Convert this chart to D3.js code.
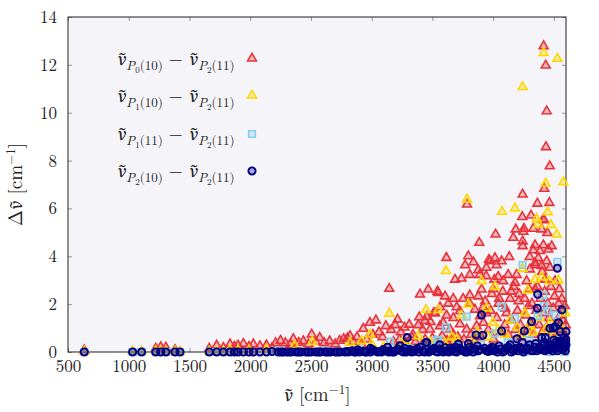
<!DOCTYPE html>
<html>
<head>
<meta charset="utf-8">
<script src="https://cdn.jsdelivr.net/npm/d3@7"></script>
<style>
  body { margin: 0; background: #fff; }
  svg { display: block; font-family: "Latin Modern Roman", "Liberation Serif", serif; }
  .nu { font-family: "Noto Serif", "DejaVu Serif", serif; font-style: italic; }
</style>
</head>
<body>
<svg width="599" height="412"></svg>
<script>
// tick values
const xTicks = [500, 1000, 1500, 2000, 2500, 3000, 3500, 4000, 4500];
const yTicks = [0, 2, 4, 6, 8, 10, 12, 14];

// nu_P0(10) - nu_P2(11)
const red = [
  [634,0.05],[1222,0.12],[1263,0.18],[1306,0.16],[1381,0.06],[1663,0.12],[1724,0.25],[1779,0.15],[1834,0.3],[1870,0.2],
  [1900,0.25],[1944,0.32],[1990,0.2],[2026,0.3],[2080,0.22],[2134,0.26],[2180,0.15],[2210,0.35],[2250,0.45],[2290,0.35],
  [2330,0.3],[2355,0.52],[2400,0.36],[2437,0.43],[2480,0.3],[2506,0.71],[2540,0.4],[2572,0.57],[2610,0.35],[2654,0.43],
  [2700,0.3],[2736,0.45],[2770,0.52],[2800,0.55],[2822,0.64],[2850,0.4],[2880,0.6],[2917,0.3],[2931,0.95],[2960,0.5],
  [2986,1.2],[3010,0.7],[3035,1.3],[3060,0.8],[3090,0.6],[3117,1.06],[3145,2.62],[3160,0.9],[3194,1.1],[3213,1.33],
  [3240,0.8],[3270,1.0],[3309,1.12],[3340,0.7],[3384,1.1],[3392,1.43],[3398,2.38],[3420,0.9],[3439,1.27],[3453,1.45],
  [3466,2.59],[3480,0.92],[3485,1.23],[3510,1.6],[3522,1.6],[3541,2.5],[3549,2.45],[3563,1.85],[3563,1.06],[3590,1.2],
  [3604,2.3],[3615,3.91],[3617,1.5],[3631,2.0],[3645,0.92],[3672,2.2],[3672,1.4],[3672,0.7],[3686,3.0],[3700,1.85],
  [3727,1.68],[3727,1.14],[3740,3.05],[3753,2.2],[3770,3.6],[3782,0.92],[3785,6.14],[3796,3.98],[3808,3.2],[3808,2.35],
  [3808,2.0],[3838,3.73],[3850,1.75],[3864,1.06],[3878,3.4],[3878,2.3],[3886,4.54],[3890,3.2],[3892,1.47],[3905,2.59],
  [3918,1.85],[3944,3.5],[3943,3.15],[3945,1.6],[3966,3.83],[3974,3.77],[3990,2.4],[4010,3.0],[4015,3.9],[4020,4.89],
  [4028,3.6],[4042,3.12],[4050,2.2],[4070,3.77],[4083,2.94],[4100,1.8],[4124,3.2],[4133,3.95],[4150,2.5],[4166,4.75],
  [4180,2.87],[4186,5.1],[4193,3.2],[4210,2.1],[4240,5.62],[4243,6.56],[4243,4.6],[4243,4.4],[4249,5.0],[4254,5.13],
  [4276,2.94],[4290,1.9],[4301,3.95],[4303,3.43],[4312,5.68],[4330,5.13],[4331,4.23],[4345,4.44],[4345,2.6],[4345,3.69],
  [4350,3.6],[4364,6.18],[4372,3.9],[4386,4.2],[4400,5.1],[4400,3.57],[4404,3.33],[4413,5.52],[4414,4.44],[4416,12.76],
  [4419,5.49],[4421,6.8],[4427,3.0],[4433,11.95],[4435,8.54],[4441,10.04],[4441,3.77],[4446,4.95],[4454,4.26],[4463,6.21],
  [4466,7.74],[4468,3.5],[4482,4.4],[4510,2.94],
  [3900,0.6],[3920,1.2],[3935,2.1],[3960,0.9],[3980,1.7],[4000,2.6],[4005,0.5],[4030,1.4],[4045,2.0],[4060,0.8],
  [4080,2.5],[4095,1.1],[4110,1.6],[4125,0.7],[4140,2.2],[4155,1.3],[4170,2.7],[4185,0.9],[4200,1.7],[4215,2.4],
  [4225,1.1],[4235,0.6],[4260,2.2],[4270,1.5],[4285,0.9],[4295,2.6],[4310,1.2],[4320,2.0],[4335,0.7],[4355,1.7],
  [4365,2.7],[4380,1.1],[4390,2.2],[4405,0.8],[4415,1.6],[4425,2.5],[4440,1.0],[4450,2.0],[4460,1.4],[4475,2.7],
  [4485,0.8],[4495,1.8],[4505,2.3],[4520,1.2],[4530,0.6],[4540,2.0],[4550,1.5],[4560,0.9],[4575,1.3],[4590,0.7],
  [4598,1.1],[4545,2.6],[4565,2.2],[4590,1.9],
  [3180,0.4],[3230,0.5],[3280,0.35],[3330,0.6],[3360,0.4],[3440,0.5],[3500,0.55],[3530,0.4],[3580,0.65],[3620,0.45],
  [3660,0.5],[3710,0.6],[3760,0.5],[3820,0.7],[3850,0.45]
];

// nu_P1(10) - nu_P2(11)
const yellow = [
  [634,0],[1032,0],[1106,0],[1222,0.02],[1263,0],[1306,0],[1381,0],[1422,0],[1663,0],[1724,0],
  [1779,0],[1834,0.05],[1900,0.05],[1990,0.05],[2134,0.08],[2366,0.25],[2512,0.4],[2822,0.36],[2917,0.43],[2986,0.71],
  [3145,1.58],[3384,0.64],[3447,1.73],[3549,1.73],[3612,3.36],[3659,0.6],[3740,1.5],[3785,6.35],[3796,1.96],[3905,2.94],
  [3945,1.8],[4015,2.7],[4073,5.84],[4180,5.98],[4243,11.05],[4243,3.45],[4285,2.55],[4345,3.0],[4358,5.54],[4372,5.31],
  [4400,3.1],[4416,12.48],[4433,7.02],[4449,5.82],[4463,2.94],[4476,5.28],[4523,4.89],[4529,12.23],[4537,2.97],[4578,7.07],
  [4594,1.6],
  [3000,0.3],[3100,0.2],[3250,0.35],[3300,0.25],[3480,0.4],[3520,0.3],[3600,0.35],[3700,0.5],[3830,0.4],[3870,0.8],
  [3960,0.6],[4000,1.2],[4040,0.9],[4100,0.7],[4140,1.3],[4200,1.0],[4230,0.7],[4260,1.6],[4300,1.1],[4330,0.8],
  [4380,1.4],[4430,0.9],[4470,1.2],[4500,0.7],[4560,1.0],[4590,0.5]
];

// nu_P1(11) - nu_P2(11)
const blue = [
  [634,0],[1032,0],[1106,0],[1222,0],[1263,0],[1306,0],[1381,0],[1422,0],[1663,0],[1724,0],
  [1779,0],[1834,0],[2200,0.05],[2450,0],[2600,0.05],[2750,0],[2900,0.1],[3050,0],[3151,0.43],[3300,0.15],
  [3380,0],[3466,0.2],[3541,0.5],[3549,0.5],[3612,1.03],[3700,0.25],[3782,1.48],[3840,0],[3900,0.3],[4015,0.78],
  [4070,1.9],[4120,0.4],[4180,1.41],[4243,3.64],[4260,0],[4300,0.5],[4367,1.5],[4413,2.38],[4418,1.93],[4449,1.71],
  [4470,0],[4514,1.55],[4529,3.77],[4560,0.6],[4600,0.3],[4590,0]
];

// nu_P2(10) - nu_P2(11)
const navy = [
  [634,0],[1032,0],[1106,0],[1222,0],[1263,0],[1306,0],[1381,0],[1422,0],[1663,0],[1724,0],
  [1779,0],[1834,0],[1870,0],[1900,0],[1944,0],[1990,0],[2026,0],[2080,0],[2134,0],[2180,0.02],
  [2230,0],[2270,0],[2300,0],[2340,0],[2380,0],[2420,0],[2460,0],[2500,0],[2540,0],[2580,0],
  [2620,0],[2660,0],[2700,0],[2740,0],[2780,0],[2810,0],[2840,0.05],[2870,0],[2900,0],[2930,0.03],
  [2960,0],[2990,0],[3020,0.05],[3050,0],[3080,0],[3110,0.04],[3140,0],[3170,0],[3200,0.06],[3234,0.26],
  [3260,0],[3293,0.6],[3300,0.05],[3330,0],[3360,0.08],[3390,0],[3420,0.05],[3447,0.39],[3453,0.4],[3470,0],
  [3500,0.1],[3530,0.02],[3560,0.12],[3590,0],[3620,0.05],[3650,0.15],[3680,0.02],[3714,0.33],[3740,0.08],[3770,0],
  [3796,0.35],[3820,0.1],[3860,0.71],[3880,0.05],[3905,1.55],[3915,0.7],[3930,0.15],[3960,0.02],[3990,0.2],[4020,0.08],
  [4050,0.25],[4070,0.88],[4080,0],[4110,0.15],[4140,0.3],[4170,0.05],[4196,0.55],[4220,0.2],[4257,0.88],[4270,0.1],
  [4300,0.3],[4317,1.27],[4330,0.05],[4364,1.83],[4367,2.41],[4380,0.2],[4400,0.6],[4420,0.4],[4440,0.1],[4468,0.99],
  [4480,0.3],[4495,1.0],[4500,0.5],[4510,1.05],[4520,0.15],[4529,3.5],[4537,1.22],[4551,0.85],[4560,0.35],[4566,1.76],
  [4575,0.1],[4585,0.6],[4600,0.85],[4600,0.3],[4592,0.2],[4545,0.45],[4490,0.05],[4460,0.25],[4430,0.6],[4350,0.35],
  [4240,0.4],[4160,0.1],[4000,0.05],[3870,0.25],[3690,0.2],[3560,0.3],[3400,0.2],[3270,0.15],[3130,0.2],[2990,0.15],
  [2255,0],[2320,0],[2400,0],[2480,0],[2560,0],[2640,0],[2720,0],[2795,0.02],[2855,0],[2885,0.08],
  [2945,0],[3005,0.1],[3065,0.02],[3095,0.1],[3155,0.05],[3185,0],[3215,0.12],[3245,0.04],[3285,0],[3315,0.1],
  [3345,0.02],[3375,0.14],[3435,0],[3485,0.05],[3515,0.15],[3545,0],[3575,0.05],[3605,0.18],[3635,0],[3665,0.08],
  [3700,0],[3725,0.15],[3755,0.05],[3785,0],[3805,0.2],[3835,0],[3850,0.12],[3895,0.1],[3945,0.05],[3975,0.12],
  [4005,0.18],[4035,0],[4060,0.12],[4095,0.05],[4125,0.2],[4150,0],[4185,0.15],[4205,0.05],[4235,0.1],[4250,0],
  [4285,0.15],[4315,0.05],[4340,0.2],[4360,0.05],[4390,0.1],[4410,0.25],[4425,0.05],[4450,0.3],[4475,0.15],[4505,0.2],
  [4515,0.4],[4530,0.05],[4555,0.25],[4570,0.45],[4580,0.2],[4595,0.05],[4598,0.5],[4588,0.4],[4540,0.3],[4462,0.1]
];

const series = [
  {data: red,    color: "#e8323a", shape: "tri", sub: "0", lvl: "10"},
  {data: yellow, color: "#ffd700", shape: "tri", sub: "1", lvl: "10"},
  {data: blue,   color: "#87ceeb", shape: "sq",  sub: "1", lvl: "11"},
  {data: navy,   color: "#000080", shape: "circ", sub: "2", lvl: "10"}
];

const margin = {left: 68, top: 17, right: 33, bottom: 60};
const W = 599, H = 412;

const x = d3.scaleLinear().domain([500, 4600]).range([margin.left, W - margin.right]);
const y = d3.scaleLinear().domain([0, 14]).range([H - margin.bottom, margin.top]);

const svg = d3.select("svg");

// plot background
svg.append("rect")
  .attr("x", x(500)).attr("y", y(14))
  .attr("width", x(4600) - x(500)).attr("height", y(0) - y(14))
  .attr("fill", "#f4f4f9");

function styleAxis(g, labels) {
  g.attr("font-family", null).attr("font-size", null);
  g.select(".domain").remove();
  g.selectAll(".tick line").attr("stroke", "#999").attr("stroke-width", 1);
  if (labels) {
    g.selectAll(".tick text").attr("fill", "#222").attr("font-size", 17);
  } else {
    g.selectAll(".tick text").remove();
  }
}

svg.append("g")
  .attr("transform", `translate(0,${y(0)})`)
  .call(d3.axisBottom(x).tickValues(xTicks).tickSize(-4).tickPadding(8).tickFormat(d3.format("d")))
  .call(g => styleAxis(g, true));
svg.append("g")
  .attr("transform", `translate(0,${y(14)})`)
  .call(d3.axisTop(x).tickValues(xTicks).tickSize(-4))
  .call(g => styleAxis(g, false));
svg.append("g")
  .attr("transform", `translate(${x(500)},0)`)
  .call(d3.axisLeft(y).tickValues(yTicks).tickSize(-4).tickPadding(11))
  .call(g => styleAxis(g, true));
svg.append("g")
  .attr("transform", `translate(${x(4600)},0)`)
  .call(d3.axisRight(y).tickValues(yTicks).tickSize(-4))
  .call(g => styleAxis(g, false));

svg.append("rect")
  .attr("x", x(500)).attr("y", y(14))
  .attr("width", x(4600) - x(500)).attr("height", y(0) - y(14))
  .attr("fill", "none").attr("stroke", "#222").attr("stroke-width", 1);

const triPath = d3.symbol().type(d3.symbolTriangle).size(34)();
const sqPath = d3.symbol().type(d3.symbolSquare).size(44)();

function drawMarker(sel, s) {
  if (s.shape === "circ") {
    sel.append("circle").attr("r", 3.6);
  } else {
    sel.append("path").attr("d", s.shape === "tri" ? triPath : sqPath)
      .attr("transform", s.shape === "tri" ? "translate(0,-0.6)" : null);
  }
  sel.selectAll("circle,path")
    .attr("fill", s.color).attr("fill-opacity", 0.3)
    .attr("stroke", s.color).attr("stroke-width", s.shape === "circ" ? 1.9 : 1.6);
}

const points = svg.append("g");
series.forEach(s => {
  points.append("g").selectAll("g")
    .data(s.data)
    .enter().append("g")
      .attr("transform", d => `translate(${x(d[0])},${y(d[1])})`)
      .each(function() { drawMarker(d3.select(this), s); });
});

// legend
const legend = svg.append("g");
const rowY = [59, 96, 134, 171];

function nuTerm(t, p, lvl, dy) {
  t.append("tspan").attr("class", "nu").attr("font-size", 17).attr("dy", dy).text("ν\u0303");
  t.append("tspan").attr("font-style", "italic").attr("font-size", 13).attr("dy", 5).text("P");
  t.append("tspan").attr("font-size", 9).attr("dy", 3).text(p);
  t.append("tspan").attr("font-size", 13).attr("dy", -3).text("(" + lvl + ")");
}

series.forEach((s, i) => {
  const t = legend.append("text")
    .attr("x", 117).attr("y", rowY[i] + 6)
    .attr("fill", "#222");
  nuTerm(t, s.sub, s.lvl, 0);
  t.append("tspan").attr("font-size", 18).attr("dy", -5).text(" \u2212 ");
  nuTerm(t, "2", "11", 0);
  const m = legend.append("g").attr("transform", `translate(252,${rowY[i]})`);
  drawMarker(m, s);
});

// axis titles
const yl = svg.append("text")
  .attr("transform", `translate(22,${(y(0) + y(14)) / 2}) rotate(-90)`)
  .attr("text-anchor", "middle").attr("font-size", 19).attr("fill", "#222");
yl.append("tspan").text("Δ");
yl.append("tspan").attr("class", "nu").attr("font-size", 17).text("ν\u0303");
yl.append("tspan").text(" [cm");
yl.append("tspan").attr("font-size", 13).attr("dy", -7).text("\u22121");
yl.append("tspan").attr("dy", 7).text("]");

const xl = svg.append("text")
  .attr("x", (x(500) + x(4600)) / 2).attr("y", 401)
  .attr("text-anchor", "middle").attr("font-size", 19).attr("fill", "#222");
xl.append("tspan").attr("class", "nu").attr("font-size", 17).text("ν\u0303");
xl.append("tspan").text(" [cm");
xl.append("tspan").attr("font-size", 13).attr("dy", -7).text("\u22121");
xl.append("tspan").attr("dy", 7).text("]");
</script>
</body>
</html>
